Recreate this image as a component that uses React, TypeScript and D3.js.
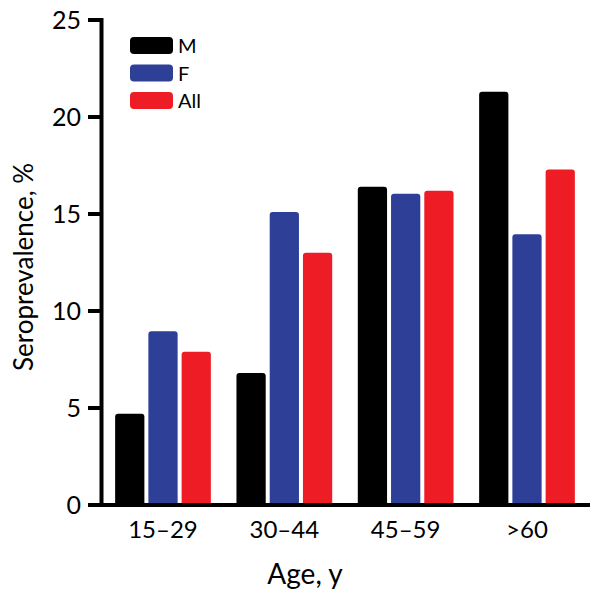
import React from "react";
import * as d3 from "d3";

const categories = ["15–29", "30–44", "45–59", ">60"];
const seriesNames = ["M", "F", "All"];
const seriesM = [4.7, 6.8, 16.4, 21.3];
const seriesF = [8.95, 15.1, 16.05, 13.95];
const seriesAll = [7.9, 13.0, 16.2, 17.3];
const yTicks = [0, 5, 10, 15, 20, 25];
const colors = ["#000000", "#2E3F98", "#EE1D25"];

const W = 600;
const H = 591;
const FONT = "Lato, 'Open Sans', sans-serif";

function barPath(x: number, y: number, w: number, h: number, r: number) {
  const rr = Math.min(r, h);
  return `M${x},${y + h}L${x},${y + rr}Q${x},${y} ${x + rr},${y}L${x + w - rr},${y}Q${x + w},${y} ${x + w},${y + rr}L${x + w},${y + h}Z`;
}

export default function App() {
  const series = [seriesM, seriesF, seriesAll];
  const y = d3.scaleLinear().domain([0, 25]).range([505, 20]);
  const x0 = d3.scaleBand<string>().domain(categories).range([103, 587]).paddingInner(0.211).paddingOuter(0.1);
  const x1 = d3.scaleBand<string>().domain(seriesNames).range([0, x0.bandwidth()]).paddingInner(0.12).paddingOuter(0);

  return (
    <svg width={W} height={H} style={{ position: "absolute", left: 0, top: 0, background: "#fff" }}>
      {categories.map((c, i) => (
        <g key={c} transform={`translate(${x0(c)},0)`}>
          {seriesNames.map((s, j) => {
            const v = series[j][i];
            const top = y(v);
            return (
              <path key={s} d={barPath(x1(s)!, top, x1.bandwidth(), y(0) - top, 3)} fill={colors[j]} />
            );
          })}
        </g>
      ))}
      <line x1={101.5} x2={101.5} y1={18} y2={507} stroke="#000" strokeWidth={4} />
      {yTicks.map((t) => (
        <g key={t}>
          <line x1={88} x2={102} y1={y(t)} y2={y(t)} stroke="#000" strokeWidth={4} />
          <text x={81} y={y(t)} dy="0.36em" textAnchor="end" fontFamily={FONT} fontSize={25} fill="#000">
            {t}
          </text>
        </g>
      ))}
      <line x1={88} x2={590} y1={505} y2={505} stroke="#000" strokeWidth={4} />
      {categories.map((c) => (
        <text key={c} x={x0(c)! + x0.bandwidth() / 2} y={538} textAnchor="middle" fontFamily={FONT} fontSize={24} fill="#000">
          {c}
        </text>
      ))}
      <text x={305} y={584} textAnchor="middle" fontFamily={FONT} fontSize={28} fill="#000">
        Age, y
      </text>
      <text transform="translate(33,267) rotate(-90)" textAnchor="middle" fontFamily={FONT} fontSize={26} fill="#000">
        Seroprevalence, %
      </text>
      {seriesNames.map((s, j) => (
        <g key={s} transform={`translate(130,${37 + j * 27.5})`}>
          <rect x={0} y={0} width={43} height={17} rx={4} fill={colors[j]} />
          <text x={48} y={16} fontFamily={FONT} fontSize={20} fill="#000">
            {s}
          </text>
        </g>
      ))}
    </svg>
  );
}
